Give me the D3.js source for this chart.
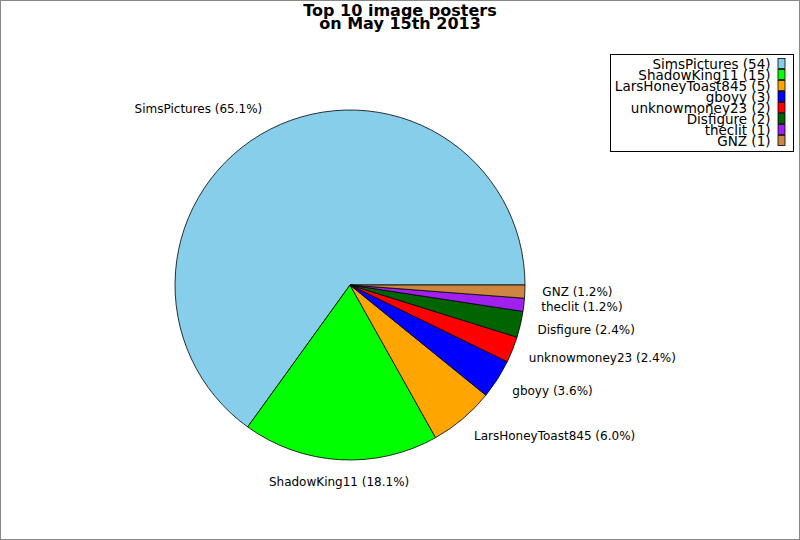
<!DOCTYPE html>
<html>
<head>
<meta charset="utf-8">
<script src="https://cdn.jsdelivr.net/npm/d3@7"></script>
<style>
  body { margin: 0; background: #fff; }
  svg { display: block; font-family: "DejaVu Sans", sans-serif; }
</style>
</head>
<body>
<div id="main"></div>
<script>
const posters = ['SimsPictures', 'ShadowKing11', 'LarsHoneyToast845', 'gboyy',
                 'unknowmoney23', 'Disfigure', 'theclit', 'GNZ'];
const counts = [54, 15, 5, 3, 2, 2, 1, 1];
const sliceColors = ['#87ceeb', '#00ff00', '#ffa500', '#0000ff',
                     '#ff0000', '#006400', '#a020f0', '#cd853f'];
const titleLines = ['Top 10 image posters', 'on May 15th 2013'];

const width = 800, height = 540;
const cx = 350, cy = 285, radius = 175;

const svg = d3.select('#main').append('svg')
  .attr('width', width)
  .attr('height', height);

svg.append('rect')
  .attr('x', 0.5).attr('y', 0.5)
  .attr('width', width - 1).attr('height', height - 1)
  .attr('fill', '#fff')
  .attr('stroke', '#888')
  .attr('stroke-width', 1);

const total = d3.sum(counts);
const rows = posters.map((name, i) => ({ name, value: counts[i], color: sliceColors[i] }));

// counter-clockwise from 3 o'clock, like the original
const pie = d3.pie()
  .sort(null)
  .value(d => d.value)
  .startAngle(Math.PI / 2)
  .endAngle(Math.PI / 2 - 2 * Math.PI);

const arc = d3.arc().innerRadius(0).outerRadius(radius);
const arcs = pie(rows);

const g = svg.append('g').attr('transform', `translate(${cx},${cy})`);

g.selectAll('.slice')
  .data(arcs)
  .enter().append('path')
    .attr('class', 'slice')
    .attr('d', arc)
    .attr('fill', d => d.data.color)
    .attr('stroke', '#000')
    .attr('stroke-width', 0.8)
    .attr('stroke-linejoin', 'round');

// labels sit a bit further out vertically than horizontally
const labelRx = radius * 1.1;
const labelRy = radius * 1.13;
g.selectAll('.slice-label')
  .data(arcs)
  .enter().append('text')
    .attr('class', 'slice-label')
    .each(function(d) {
      const a = (d.startAngle + d.endAngle) / 2;
      d.ux = Math.sin(a);
      d.lx = labelRx * Math.sin(a);
      d.ly = -labelRy * Math.cos(a);
    })
    .attr('x', d => d.lx)
    .attr('y', d => d.ly)
    .attr('text-anchor', d => Math.abs(d.ux) < 0.1 ? 'middle' : (d.ux > 0 ? 'start' : 'end'))
    .attr('dominant-baseline', 'central')
    .attr('font-size', 12)
    .attr('fill', '#000')
    .text(d => `${d.data.name} (${(d.data.value / total * 100).toFixed(1)}%)`);

// title
svg.append('text')
  .attr('x', 400)
  .attr('y', 16)
  .attr('text-anchor', 'middle')
  .attr('font-size', 16)
  .attr('font-weight', 'bold')
  .selectAll('tspan')
  .data(titleLines)
  .enter().append('tspan')
    .attr('x', 400)
    .attr('dy', (d, i) => i === 0 ? 0 : 13)
    .text(d => d);

// legend
const legend = svg.append('g').attr('transform', 'translate(610.5,54.5)');
legend.append('rect')
  .attr('width', 183)
  .attr('height', 97)
  .attr('fill', '#fff')
  .attr('stroke', '#000')
  .attr('stroke-width', 1);

const rowY = d3.scaleLinear().domain([0, rows.length - 1]).range([9, 86]);
const item = legend.selectAll('.legend-item')
  .data(rows)
  .enter().append('g')
    .attr('class', 'legend-item')
    .attr('transform', (d, i) => `translate(0,${rowY(i)})`);

item.append('text')
  .attr('x', 160)
  .attr('text-anchor', 'end')
  .attr('dominant-baseline', 'central')
  .attr('font-size', 13.5)
  .text(d => `${d.name} (${d.value})`);

item.append('rect')
  .attr('x', 167.5)
  .attr('y', -5)
  .attr('width', 7)
  .attr('height', 10)
  .attr('fill', d => d.color)
  .attr('stroke', '#000')
  .attr('stroke-width', 0.8);
</script>
</body>
</html>
